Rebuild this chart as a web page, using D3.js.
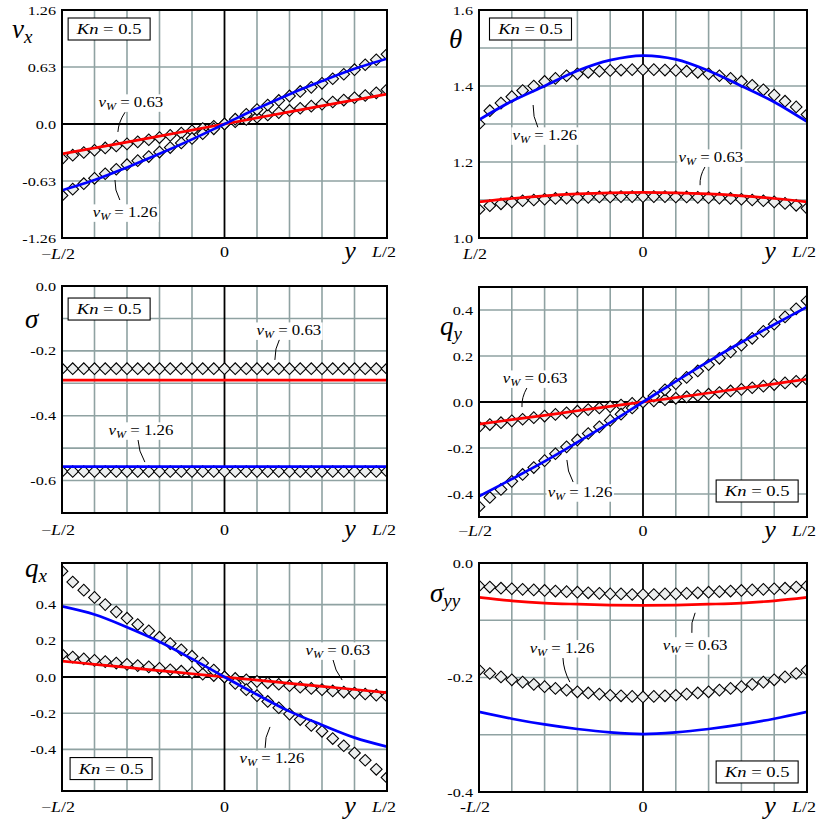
<!DOCTYPE html>
<html>
<head>
<meta charset="utf-8">
<script src="https://cdn.jsdelivr.net/npm/d3@7"></script>
<style>
  body { margin: 0; background: #fff; }
  svg { display: block; }
  text { font-family: "Liberation Serif", "Times New Roman", serif; fill: #000; }
</style>
</head>
<body>
<svg id="chart" width="819" height="823"></svg>
<script>
// channel coordinate y/L, DSMC samples and solution curve nodes
const S_DSMC = [-0.5, -0.467, -0.433, -0.4, -0.367, -0.333, -0.3, -0.267, -0.233, -0.2, -0.167, -0.133, -0.1, -0.067, -0.033, 0,
  0.033, 0.067, 0.1, 0.133, 0.167, 0.2, 0.233, 0.267, 0.3, 0.333, 0.367, 0.4, 0.433, 0.467, 0.5];
const S_LINE = [-0.5, -0.4, -0.3, -0.2, -0.1, 0, 0.1, 0.2, 0.3, 0.4, 0.5];
const X_GRID = [-0.4, -0.3, -0.2, -0.1, 0.1, 0.2, 0.3, 0.4];

// v_x
const VX_LINE_063 = [-0.33, -0.265, -0.2, -0.134, -0.067, 0, 0.067, 0.134, 0.2, 0.265, 0.33];
const VX_LINE_126 = [-0.733, -0.62, -0.48, -0.33, -0.17, 0, 0.17, 0.33, 0.475, 0.61, 0.722];
const VX_DSMC_063 = [-0.385, -0.345, -0.315, -0.29, -0.265, -0.243, -0.22, -0.197, -0.174, -0.15, -0.126, -0.1, -0.075, -0.05, -0.025, 0,
  0.025, 0.05, 0.075, 0.1, 0.126, 0.15, 0.174, 0.197, 0.22, 0.243, 0.265, 0.29, 0.315, 0.345, 0.38];
const VX_DSMC_126 = [-0.79, -0.72, -0.66, -0.6, -0.55, -0.5, -0.45, -0.405, -0.36, -0.31, -0.26, -0.21, -0.16, -0.107, -0.053, 0,
  0.053, 0.107, 0.16, 0.21, 0.26, 0.31, 0.36, 0.405, 0.45, 0.5, 0.55, 0.6, 0.655, 0.71, 0.77];

// theta
const TH_LINE_063 = [1.095, 1.104, 1.111, 1.116, 1.119, 1.12, 1.119, 1.116, 1.111, 1.104, 1.095];
const TH_LINE_126 = [1.311, 1.36, 1.4, 1.44, 1.468, 1.48, 1.47, 1.44, 1.4, 1.358, 1.306];
const TH_DSMC_063 = [1.075, 1.085, 1.09, 1.095, 1.098, 1.1, 1.102, 1.104, 1.105, 1.106, 1.107, 1.108, 1.108, 1.109, 1.109, 1.109,
  1.109, 1.109, 1.108, 1.108, 1.107, 1.106, 1.105, 1.104, 1.102, 1.1, 1.098, 1.095, 1.091, 1.086, 1.078];
const TH_DSMC_126 = [1.3, 1.335, 1.355, 1.372, 1.388, 1.4, 1.412, 1.42, 1.427, 1.432, 1.436, 1.439, 1.441, 1.442, 1.443, 1.443,
  1.443, 1.442, 1.441, 1.439, 1.436, 1.432, 1.427, 1.42, 1.412, 1.402, 1.39, 1.376, 1.36, 1.345, 1.325];

// sigma
const SG_LINE_063 = [-0.29, -0.29, -0.29, -0.29, -0.29, -0.29, -0.29, -0.29, -0.29, -0.29, -0.29];
const SG_LINE_126 = [-0.557, -0.557, -0.557, -0.557, -0.557, -0.557, -0.557, -0.557, -0.557, -0.557, -0.557];
const SG_DSMC_063 = [-0.255, -0.255, -0.255, -0.255, -0.255, -0.255, -0.255, -0.255, -0.255, -0.255, -0.255, -0.255, -0.255, -0.255, -0.255, -0.255,
  -0.255, -0.255, -0.255, -0.255, -0.255, -0.255, -0.255, -0.255, -0.255, -0.255, -0.255, -0.255, -0.255, -0.255, -0.255];
const SG_DSMC_126 = [-0.572, -0.572, -0.572, -0.572, -0.572, -0.572, -0.572, -0.572, -0.572, -0.572, -0.572, -0.572, -0.572, -0.572, -0.572, -0.572,
  -0.572, -0.572, -0.572, -0.572, -0.572, -0.572, -0.572, -0.572, -0.572, -0.572, -0.572, -0.572, -0.572, -0.572, -0.572];

// q_y
const QY_LINE_063 = [-0.096, -0.077, -0.058, -0.038, -0.019, 0, 0.019, 0.039, 0.059, 0.079, 0.099];
const QY_LINE_126 = [-0.41, -0.335, -0.258, -0.175, -0.09, 0, 0.09, 0.177, 0.26, 0.337, 0.413];
const QY_DSMC_063 = [-0.108, -0.098, -0.09, -0.082, -0.075, -0.068, -0.061, -0.054, -0.047, -0.04, -0.033, -0.026, -0.02, -0.013, -0.006, 0,
  0.005, 0.01, 0.016, 0.022, 0.028, 0.034, 0.041, 0.048, 0.055, 0.062, 0.069, 0.076, 0.083, 0.09, 0.097];
const QY_DSMC_126 = [-0.455, -0.415, -0.38, -0.345, -0.315, -0.285, -0.255, -0.225, -0.195, -0.165, -0.137, -0.108, -0.08, -0.053, -0.026, 0,
  0.026, 0.053, 0.08, 0.107, 0.135, 0.162, 0.19, 0.218, 0.247, 0.277, 0.307, 0.338, 0.37, 0.405, 0.44];

// q_x
const QX_LINE_063 = [0.088, 0.07, 0.053, 0.035, 0.018, 0, -0.017, -0.035, -0.052, -0.069, -0.086];
const QX_LINE_126 = [0.39, 0.345, 0.275, 0.195, 0.1, 0, -0.097, -0.19, -0.265, -0.335, -0.385];
const QX_DSMC_063 = [0.125, 0.11, 0.1, 0.092, 0.085, 0.077, 0.07, 0.063, 0.056, 0.048, 0.04, 0.032, 0.024, 0.016, 0.008, 0,
  -0.008, -0.016, -0.024, -0.032, -0.04, -0.048, -0.056, -0.063, -0.07, -0.077, -0.083, -0.089, -0.094, -0.1, -0.106];
const QX_DSMC_126 = [0.585, 0.525, 0.48, 0.44, 0.4, 0.36, 0.325, 0.29, 0.255, 0.22, 0.185, 0.15, 0.115, 0.077, 0.038, 0,
  -0.035, -0.07, -0.103, -0.135, -0.17, -0.205, -0.235, -0.268, -0.3, -0.34, -0.38, -0.42, -0.46, -0.51, -0.555];

// sigma_yy
const SY_LINE_063 = [-0.06, -0.066, -0.07, -0.072, -0.0735, -0.074, -0.0735, -0.072, -0.07, -0.066, -0.06];
const SY_LINE_126 = [-0.26, -0.272, -0.282, -0.29, -0.296, -0.299, -0.296, -0.29, -0.282, -0.272, -0.26];
const SY_DSMC_063 = [-0.04, -0.042, -0.044, -0.045, -0.046, -0.047, -0.048, -0.049, -0.05, -0.051, -0.052, -0.053, -0.054, -0.054, -0.055, -0.055,
  -0.055, -0.054, -0.054, -0.053, -0.052, -0.051, -0.05, -0.049, -0.048, -0.047, -0.046, -0.045, -0.044, -0.042, -0.04];
const SY_DSMC_126 = [-0.187, -0.193, -0.199, -0.204, -0.208, -0.212, -0.216, -0.219, -0.222, -0.225, -0.227, -0.229, -0.231, -0.232, -0.233, -0.234,
  -0.233, -0.232, -0.231, -0.229, -0.227, -0.225, -0.222, -0.219, -0.216, -0.212, -0.208, -0.204, -0.199, -0.193, -0.187];

const RED = "#ff0000";
const BLUE = "#0000ff";
const GRID = "#8fa2a2";
const SX = 1.2; // the typeset labels are a bit wider than Times

const f2 = (d) => (d === 0 ? "0.0" : d.toFixed(2));
const f1 = (d) => d.toFixed(1);

const PANELS = [
  {
    box: [62, 10, 387, 238], domain: [-1.26, 1.26], ticks: [-1.26, -0.63, 0, 0.63, 1.26], fmt: f2,
    hgrid: [-0.63, 0.63], sym: ["v", "x"], symPos: [12, 38], labBase: 257, leftBase: 259, left: "\u2212L/2",
    series: [[RED, VX_LINE_063, VX_DSMC_063], [BLUE, VX_LINE_126, VX_DSMC_126]],
    kn: [-0.355, 1.05],
    notes: [
      { t: "0.63", at: [-0.288, 0.243], from: [-0.306, 0.13], to: [-0.328, -0.088] },
      { t: "1.26", at: [-0.306, -0.973], from: [-0.337, -0.619], to: [-0.322, -0.84] },
    ],
  },
  {
    box: [479, 10, 807, 238], domain: [1.0, 1.6], ticks: [1.0, 1.2, 1.4, 1.6], fmt: f1,
    hgrid: [1.1, 1.2, 1.3, 1.4, 1.5], sym: ["\u03b8", ""], symPos: [449, 48], labBase: 257, leftBase: 259, left: "L/2",
    series: [[RED, TH_LINE_063, TH_DSMC_063], [BLUE, TH_LINE_126, TH_DSMC_126]],
    kn: [-0.343, 1.55],
    notes: [
      { t: "1.26", at: [-0.299, 1.271], from: [-0.335, 1.35], to: [-0.32, 1.29] },
      { t: "0.63", at: [0.207, 1.213], from: [0.189, 1.187], to: [0.174, 1.139] },
    ],
  },
  {
    box: [62, 286, 387, 513], domain: [-0.7, 0], ticks: [-0.6, -0.4, -0.2, 0], fmt: f1,
    hgrid: [-0.1, -0.2, -0.3, -0.4, -0.5, -0.6], sym: ["\u03c3", ""], symPos: [25, 328], labBase: 535, leftBase: 535, left: "\u2212L/2",
    series: [[RED, SG_LINE_063, SG_DSMC_063], [BLUE, SG_LINE_126, SG_DSMC_126]],
    kn: [-0.355, -0.071],
    notes: [
      { t: "0.63", at: [0.198, -0.136], from: [0.171, -0.16], to: [0.155, -0.228] },
      { t: "1.26", at: [-0.257, -0.444], from: [-0.266, -0.475], to: [-0.245, -0.543] },
    ],
  },
  {
    box: [479, 287, 807, 517], domain: [-0.5, 0.5], ticks: [-0.4, -0.2, 0, 0.2, 0.4], fmt: f1,
    hgrid: [-0.4, -0.2, 0.2, 0.4], sym: ["q", "y"], symPos: [440, 335], labBase: 536, leftBase: 536, left: "\u2212L/2",
    series: [[RED, QY_LINE_063, QY_DSMC_063], [BLUE, QY_LINE_126, QY_DSMC_126]],
    kn: [0.348, -0.387],
    notes: [
      { t: "0.63", at: [-0.329, 0.104], from: [-0.354, 0.061], to: [-0.369, -0.022] },
      { t: "1.26", at: [-0.192, -0.391], from: [-0.232, -0.252], to: [-0.213, -0.348] },
    ],
  },
  {
    box: [62, 563, 387, 791], domain: [-0.63, 0.63], ticks: [-0.4, -0.2, 0, 0.2, 0.4], fmt: f1,
    hgrid: [-0.4, -0.2, 0.2, 0.4], sym: ["q", "x"], symPos: [25, 577], labBase: 812, leftBase: 812, left: "\u2212L/2",
    series: [[RED, QX_LINE_063, QX_DSMC_063], [BLUE, QX_LINE_126, QX_DSMC_126]],
    kn: [-0.349, -0.506],
    notes: [
      { t: "0.63", at: [0.349, 0.149], from: [0.334, 0.094], to: [0.362, -0.017] },
      { t: "1.26", at: [0.146, -0.448], from: [0.14, -0.276], to: [0.125, -0.392] },
    ],
  },
  {
    box: [479, 563, 807, 792], domain: [-0.4, 0], ticks: [-0.4, -0.2, 0], fmt: f1,
    hgrid: [-0.1, -0.2, -0.3], sym: ["\u03c3", "yy"], symPos: [430, 602], labBase: 812, leftBase: 812, left: "-L/2",
    series: [[RED, SY_LINE_063, SY_DSMC_063], [BLUE, SY_LINE_126, SY_DSMC_126]],
    kn: [0.348, -0.365],
    notes: [
      { t: "1.26", at: [-0.247, -0.148], from: [-0.244, -0.166], to: [-0.223, -0.208] },
      { t: "0.63", at: [0.159, -0.143], from: [0.159, -0.087], to: [0.149, -0.122] },
    ],
  },
];

const svg = d3.select("#chart");
const diamond = d3.symbol().type(d3.symbolSquare).size(68)();

PANELS.forEach((p, i) => drawPanel(p, i));

function stretched(sel, x, y) {
  return sel.attr("transform", `translate(${x},${y}) scale(${SX},1)`);
}

function drawPanel(p, i) {
  const [x0, y0, x1, y1] = p.box;
  const x = d3.scaleLinear().domain([-0.5, 0.5]).range([x0, x1]);
  const y = d3.scaleLinear().domain(p.domain).range([y1, y0]);
  const g = svg.append("g");

  svg.append("clipPath").attr("id", "clip" + i)
    .append("rect").attr("x", x0).attr("y", y0).attr("width", x1 - x0).attr("height", y1 - y0);

  g.append("rect").attr("x", x0).attr("y", y0).attr("width", x1 - x0).attr("height", y1 - y0).attr("fill", "#fff");

  g.selectAll("line.vg").data(X_GRID).join("line").attr("class", "vg")
    .attr("x1", (d) => x(d)).attr("x2", (d) => x(d)).attr("y1", y0).attr("y2", y1)
    .attr("stroke", GRID).attr("stroke-width", 1.6);
  g.selectAll("line.hg").data(p.hgrid).join("line").attr("class", "hg")
    .attr("x1", x0).attr("x2", x1).attr("y1", (d) => y(d)).attr("y2", (d) => y(d))
    .attr("stroke", GRID).attr("stroke-width", 1.6);

  g.append("line").attr("x1", x(0)).attr("x2", x(0)).attr("y1", y0).attr("y2", y1)
    .attr("stroke", "#000").attr("stroke-width", 1.8);
  if (p.domain[0] < 0 && p.domain[1] > 0) {
    g.append("line").attr("x1", x0).attr("x2", x1).attr("y1", y(0)).attr("y2", y(0))
      .attr("stroke", "#000").attr("stroke-width", 1.8);
  }

  const plot = g.append("g").attr("clip-path", `url(#clip${i})`);
  p.series.forEach(([, , dsmc]) => {
    plot.append("g").selectAll("path").data(dsmc).join("path")
      .attr("d", diamond)
      .attr("transform", (v, k) => `translate(${x(S_DSMC[k])},${y(v)}) rotate(45)`)
      .attr("fill", "#eceeee").attr("stroke", "#000").attr("stroke-width", 1.1);
  });
  const line = d3.line().x((v, k) => x(S_LINE[k])).y((v) => y(v)).curve(d3.curveCatmullRom);
  p.series.forEach(([color, vals]) => {
    plot.append("path").datum(vals).attr("d", line)
      .attr("fill", "none").attr("stroke", color).attr("stroke-width", 2.7);
  });

  g.append("rect").attr("x", x0).attr("y", y0).attr("width", x1 - x0).attr("height", y1 - y0)
    .attr("fill", "none").attr("stroke", "#000").attr("stroke-width", 2);

  // annotations
  p.notes.forEach((n) => {
    const a = [x(n.from[0]), y(n.from[1])];
    const b = [x(n.to[0]), y(n.to[1])];
    const mx = (a[0] + b[0]) / 2 - 3, my = (a[1] + b[1]) / 2;
    g.append("path").attr("d", `M${a[0]},${a[1]} Q${mx},${my} ${b[0]},${b[1]}`)
      .attr("fill", "none").attr("stroke", "#000").attr("stroke-width", 1);
    const bg = g.append("rect").attr("fill", "#fff");
    const t = stretched(g.append("text"), x(n.at[0]), y(n.at[1]) + 5)
      .attr("text-anchor", "middle").style("font-size", "14px");
    t.append("tspan").style("font-style", "italic").text("v");
    t.append("tspan").style("font-style", "italic").style("font-size", "10px").attr("dy", 3).text("W");
    t.append("tspan").attr("dy", -3).text(" = " + n.t);
    const bb = t.node().getBBox();
    bg.attr("x", bb.x - 1).attr("y", bb.y).attr("width", bb.width + 2).attr("height", bb.height)
      .attr("transform", t.attr("transform"));
  });

  // Kn box
  const kx = x(p.kn[0]), ky = y(p.kn[1]);
  g.append("rect").attr("x", kx - 41).attr("y", ky - 11).attr("width", 82).attr("height", 22)
    .attr("fill", "#fff").attr("stroke", "#000").attr("stroke-width", 1.1);
  const kt = stretched(g.append("text"), kx, ky + 5).attr("text-anchor", "middle").style("font-size", "15.5px");
  kt.append("tspan").style("font-style", "italic").text("Kn");
  kt.append("tspan").text(" = 0.5");

  // y ticks
  const ax = g.append("g").attr("transform", `translate(${x0},0)`)
    .call(d3.axisLeft(y).tickValues(p.ticks).tickFormat(p.fmt).tickSize(0).tickPadding(5));
  ax.select(".domain").remove();
  ax.selectAll("text").attr("font-family", null).style("font-size", "13.5px")
    .attr("dy", "0.3em").attr("transform", `scale(${SX},1)`);

  // x labels
  const lab = (txt, px, base) => {
    const t = stretched(g.append("text"), px, base).attr("text-anchor", "middle").style("font-size", "15px");
    if (txt.includes("L")) {
      const [pre, post] = txt.split("L");
      if (pre) t.append("tspan").text(pre);
      t.append("tspan").style("font-style", "italic").text("L");
      t.append("tspan").text(post);
    } else t.text(txt);
    return t;
  };
  lab(p.left, x0 - 4, p.leftBase);
  lab("0", x(0), p.labBase);
  lab("L/2", x1 - 3, p.labBase);
  g.append("text").attr("x", x1 - 37).attr("y", p.labBase + 2).attr("text-anchor", "middle")
    .style("font-size", "26px").style("font-style", "italic").text("y");

  // quantity symbol
  const st = g.append("text").attr("x", p.symPos[0]).attr("y", p.symPos[1]).style("font-size", "27px").style("font-style", "italic");
  st.append("tspan").text(p.sym[0]);
  if (p.sym[1]) st.append("tspan").attr("dy", 5).style("font-size", "19px").text(p.sym[1]);
}
</script>
</body>
</html>
